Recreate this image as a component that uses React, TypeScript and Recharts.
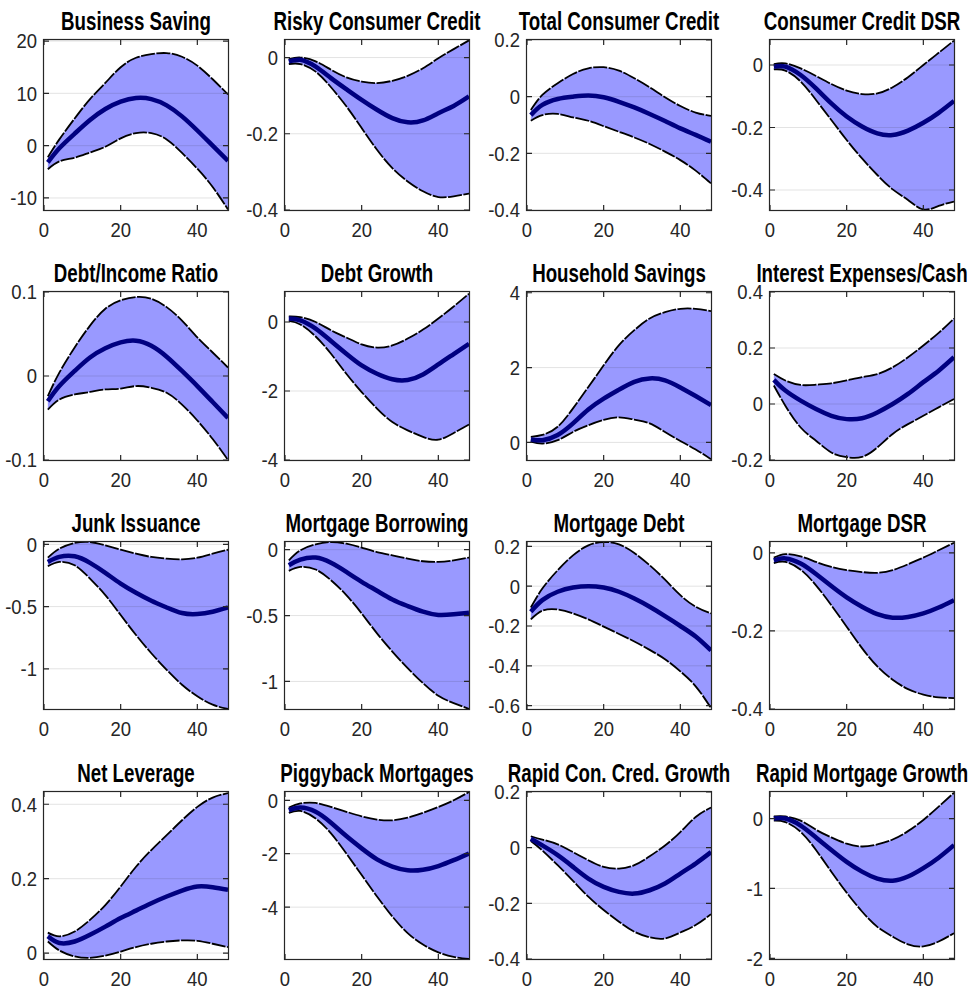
import { ComposedChart, Area, Line, XAxis, YAxis, ReferenceLine } from 'recharts'

const horizons = [1, 4, 8, 12, 16, 20, 24, 28, 32, 36, 40, 44, 48]
const xTicks = [0, 20, 40]

// Business Saving
const bsMid = [-3.2, -0.5, 2.3, 4.9, 7.0, 8.4, 9.1, 8.9, 7.7, 5.6, 2.9, 0.0, -2.9]
const bsHi = [-2.2, 1.2, 5.2, 8.9, 12.0, 15.0, 16.8, 17.5, 17.7, 17.0, 15.3, 12.7, 9.8]
const bsLo = [-4.5, -3.0, -2.3, -1.3, -0.2, 1.4, 2.4, 2.4, 1.2, -1.4, -4.4, -7.9, -12.2]

// Risky Consumer Credit
const rccMid = [-0.01, -0.006, -0.024, -0.054, -0.083, -0.111, -0.137, -0.159, -0.17, -0.165, -0.146, -0.127, -0.102]
const rccHi = [-0.004, 0.0, -0.01, -0.032, -0.052, -0.063, -0.067, -0.061, -0.048, -0.028, -0.002, 0.022, 0.045]
const rccLo = [-0.017, -0.017, -0.037, -0.078, -0.128, -0.185, -0.242, -0.29, -0.325, -0.351, -0.366, -0.364, -0.357]

// Total Consumer Credit
const tccMid = [-0.065, -0.029, -0.008, 0.0, 0.004, -0.002, -0.018, -0.038, -0.061, -0.086, -0.112, -0.135, -0.159]
const tccHi = [-0.047, 0.006, 0.047, 0.08, 0.1, 0.104, 0.092, 0.065, 0.033, -0.002, -0.033, -0.056, -0.068]
const tccLo = [-0.085, -0.065, -0.061, -0.073, -0.085, -0.104, -0.124, -0.144, -0.167, -0.194, -0.224, -0.261, -0.306]

// Consumer Credit DSR
const ccdMid = [-0.005, -0.005, -0.032, -0.075, -0.123, -0.165, -0.197, -0.219, -0.224, -0.21, -0.185, -0.153, -0.115]
const ccdHi = [0.003, 0.005, -0.011, -0.035, -0.061, -0.082, -0.093, -0.091, -0.071, -0.039, 0.0, 0.039, 0.078]
const ccdLo = [-0.014, -0.018, -0.053, -0.112, -0.176, -0.24, -0.299, -0.352, -0.398, -0.432, -0.462, -0.451, -0.437]

// Debt/Income Ratio
const dirMid = [-0.03, -0.012, 0.006, 0.022, 0.033, 0.04, 0.042, 0.036, 0.023, 0.006, -0.012, -0.031, -0.05]
const dirHi = [-0.024, 0.004, 0.034, 0.06, 0.08, 0.09, 0.094, 0.092, 0.082, 0.066, 0.046, 0.028, 0.01]
const dirLo = [-0.04, -0.028, -0.022, -0.019, -0.016, -0.015, -0.012, -0.014, -0.02, -0.034, -0.053, -0.075, -0.1]

// Debt Growth
const dgMid = [0.1, 0.05, -0.19, -0.55, -0.92, -1.26, -1.5, -1.66, -1.68, -1.52, -1.23, -0.93, -0.63]
const dgHi = [0.16, 0.14, 0.0, -0.24, -0.45, -0.65, -0.74, -0.68, -0.48, -0.22, 0.1, 0.45, 0.82]
const dgLo = [0.03, -0.07, -0.42, -0.92, -1.5, -2.03, -2.51, -2.9, -3.14, -3.33, -3.41, -3.22, -2.97]

// Household Savings
const hsMid = [0.08, 0.06, 0.2, 0.51, 0.88, 1.17, 1.41, 1.62, 1.71, 1.66, 1.47, 1.24, 1.0]
const hsHi = [0.15, 0.2, 0.42, 0.91, 1.48, 2.06, 2.6, 3.0, 3.31, 3.48, 3.57, 3.57, 3.51]
const hsLo = [0.02, -0.03, 0.06, 0.28, 0.46, 0.6, 0.67, 0.61, 0.51, 0.28, 0.04, -0.19, -0.45]

// Interest Expenses/Cash
const iecMid = [0.086, 0.048, 0.012, -0.018, -0.042, -0.054, -0.051, -0.03, 0.0, 0.036, 0.078, 0.119, 0.167]
const iecHi = [0.107, 0.084, 0.068, 0.069, 0.074, 0.084, 0.096, 0.107, 0.131, 0.167, 0.209, 0.254, 0.305]
const iecLo = [0.066, -0.006, -0.084, -0.131, -0.173, -0.19, -0.189, -0.155, -0.107, -0.072, -0.042, -0.012, 0.018]

// Junk Issuance
const jiMid = [-0.141, -0.101, -0.096, -0.149, -0.229, -0.315, -0.389, -0.453, -0.507, -0.552, -0.56, -0.541, -0.507]
const jiHi = [-0.107, -0.035, 0.011, 0.019, -0.008, -0.043, -0.075, -0.101, -0.115, -0.12, -0.107, -0.075, -0.043]
const jiLo = [-0.176, -0.141, -0.168, -0.275, -0.408, -0.568, -0.728, -0.875, -1.008, -1.128, -1.221, -1.288, -1.323]

// Mortgage Borrowing
const mbMid = [-0.118, -0.076, -0.06, -0.1, -0.169, -0.244, -0.312, -0.378, -0.428, -0.471, -0.496, -0.491, -0.479]
const mbHi = [-0.081, -0.005, 0.04, 0.058, 0.045, 0.015, -0.018, -0.043, -0.068, -0.088, -0.093, -0.081, -0.06]
const mbLo = [-0.161, -0.131, -0.151, -0.232, -0.345, -0.484, -0.635, -0.773, -0.899, -1.013, -1.108, -1.164, -1.209]

// Mortgage Debt
const mdMid = [-0.128, -0.07, -0.028, -0.007, 0.0, -0.007, -0.028, -0.062, -0.103, -0.15, -0.2, -0.253, -0.323]
const mdHi = [-0.107, -0.012, 0.08, 0.155, 0.205, 0.222, 0.21, 0.167, 0.105, 0.033, -0.045, -0.103, -0.137]
const mdLo = [-0.167, -0.123, -0.117, -0.137, -0.167, -0.203, -0.24, -0.278, -0.32, -0.367, -0.428, -0.503, -0.612]

// Mortgage DSR
const mdsrMid = [-0.019, -0.014, -0.027, -0.054, -0.085, -0.114, -0.138, -0.157, -0.166, -0.164, -0.155, -0.14, -0.121]
const mdsrHi = [-0.012, -0.003, -0.009, -0.023, -0.036, -0.044, -0.049, -0.051, -0.044, -0.029, -0.012, 0.007, 0.026]
const mdsrLo = [-0.026, -0.023, -0.043, -0.083, -0.134, -0.189, -0.244, -0.291, -0.325, -0.349, -0.363, -0.37, -0.372]

// Net Leverage
const nlMid = [0.045, 0.027, 0.031, 0.049, 0.071, 0.094, 0.114, 0.134, 0.152, 0.168, 0.179, 0.177, 0.17]
const nlHi = [0.055, 0.045, 0.058, 0.089, 0.129, 0.179, 0.232, 0.277, 0.317, 0.357, 0.393, 0.418, 0.43]
const nlLo = [0.031, 0.007, -0.009, -0.013, -0.007, 0.004, 0.016, 0.025, 0.031, 0.034, 0.033, 0.025, 0.016]

// Piggyback Mortgages
const pmMid = [-0.37, -0.27, -0.43, -0.84, -1.34, -1.8, -2.21, -2.48, -2.62, -2.6, -2.46, -2.24, -1.99]
const pmHi = [-0.27, -0.12, -0.1, -0.25, -0.43, -0.6, -0.72, -0.75, -0.65, -0.47, -0.25, 0.0, 0.31]
const pmLo = [-0.47, -0.4, -0.68, -1.24, -1.99, -2.8, -3.6, -4.35, -4.97, -5.4, -5.69, -5.86, -5.94]

// Rapid Con. Cred. Growth
const rcgMid = [0.032, 0.008, -0.027, -0.069, -0.111, -0.141, -0.159, -0.165, -0.153, -0.129, -0.093, -0.057, -0.016]
const rcgHi = [0.041, 0.029, 0.012, -0.016, -0.045, -0.069, -0.075, -0.063, -0.031, 0.008, 0.056, 0.11, 0.144]
const rcgLo = [0.024, -0.01, -0.063, -0.119, -0.176, -0.224, -0.266, -0.302, -0.322, -0.326, -0.305, -0.278, -0.239]

// Rapid Mortgage Growth
const rmgMid = [0.0, 0.0, -0.1, -0.27, -0.45, -0.62, -0.76, -0.86, -0.89, -0.83, -0.71, -0.56, -0.38]
const rmgHi = [0.03, 0.03, -0.03, -0.16, -0.27, -0.36, -0.4, -0.37, -0.3, -0.18, -0.02, 0.17, 0.37]
const rmgLo = [-0.03, -0.05, -0.19, -0.45, -0.76, -1.06, -1.33, -1.55, -1.69, -1.8, -1.83, -1.76, -1.64]

const panels = [
  { title: 'Business Saving', mid: bsMid, hi: bsHi, lo: bsLo, domain: [-12.3, 20.2], ticks: [-10, 0, 10, 20] },
  { title: 'Risky Consumer Credit', mid: rccMid, hi: rccHi, lo: rccLo, domain: [-0.4, 0.046], ticks: [-0.4, -0.2, 0] },
  { title: 'Total Consumer Credit', mid: tccMid, hi: tccHi, lo: tccLo, domain: [-0.4, 0.2], ticks: [-0.4, -0.2, 0, 0.2] },
  { title: 'Consumer Credit DSR', mid: ccdMid, hi: ccdHi, lo: ccdLo, domain: [-0.464, 0.08], ticks: [-0.4, -0.2, 0] },
  { title: 'Debt/Income Ratio', mid: dirMid, hi: dirHi, lo: dirLo, domain: [-0.1, 0.1], ticks: [-0.1, 0, 0.1] },
  { title: 'Debt Growth', mid: dgMid, hi: dgHi, lo: dgLo, domain: [-4, 0.87], ticks: [-4, -2, 0] },
  { title: 'Household Savings', mid: hsMid, hi: hsHi, lo: hsLo, domain: [-0.47, 4.02], ticks: [0, 2, 4] },
  { title: 'Interest Expenses/Cash', mid: iecMid, hi: iecHi, lo: iecLo, domain: [-0.2, 0.4], ticks: [-0.2, 0, 0.2, 0.4] },
  { title: 'Junk Issuance', mid: jiMid, hi: jiHi, lo: jiLo, domain: [-1.323, 0.019], ticks: [-1, -0.5, 0] },
  { title: 'Mortgage Borrowing', mid: mbMid, hi: mbHi, lo: mbLo, domain: [-1.209, 0.058], ticks: [-1, -0.5, 0] },
  { title: 'Mortgage Debt', mid: mdMid, hi: mdHi, lo: mdLo, domain: [-0.617, 0.222], ticks: [-0.6, -0.4, -0.2, 0, 0.2] },
  { title: 'Mortgage DSR', mid: mdsrMid, hi: mdsrHi, lo: mdsrLo, domain: [-0.4, 0.028], ticks: [-0.4, -0.2, 0] },
  { title: 'Net Leverage', mid: nlMid, hi: nlHi, lo: nlLo, domain: [-0.016, 0.433], ticks: [0, 0.2, 0.4] },
  { title: 'Piggyback Mortgages', mid: pmMid, hi: pmHi, lo: pmLo, domain: [-5.94, 0.31], ticks: [-4, -2, 0] },
  { title: 'Rapid Con. Cred. Growth', mid: rcgMid, hi: rcgHi, lo: rcgLo, domain: [-0.4, 0.2], ticks: [-0.4, -0.2, 0, 0.2] },
  { title: 'Rapid Mortgage Growth', mid: rmgMid, hi: rmgHi, lo: rmgLo, domain: [-2.01, 0.38], ticks: [-2, -1, 0] },
]

const colLeft = [44, 285, 527, 770]
const rowTop = [40, 292, 542, 792]
const rowH = [170, 168, 167, 167]
const plotW = 184
const padL = 60
const padT = 40

const font = '"Liberation Sans", Arial, Helvetica, sans-serif'
const axisColor = '#262626'

// bottom label, plus inward tick marks on the bottom and top edges of the box
function XTick({ x, y, payload, h }: any) {
  const bottom = padT + h
  return (
    <g>
      <path d={`M${x},${padT}v5M${x},${bottom}v-5`} stroke={axisColor} strokeWidth={1.2} fill="none" />
      <text x={x} y={y} dy="0.71em" textAnchor="middle" fill="#262626" fontSize={21} fontFamily={font}
        transform={`translate(${x} ${y}) scale(0.88 1) translate(${-x} ${-y})`}>
        {payload.value}
      </text>
    </g>
  )
}

// left label, inward tick marks on the left and right edges; the first tick also draws the box
function YTick({ x, y, payload, index, h }: any) {
  const right = padL + plotW
  return (
    <g>
      {index === 0 && (
        <rect x={padL - 0.5} y={padT - 0.5} width={plotW + 1} height={h + 1} fill="none" stroke={axisColor} strokeWidth={1.2} />
      )}
      <path d={`M${padL},${y}h5M${right},${y}h-5`} stroke={axisColor} strokeWidth={1.2} fill="none" />
      <text x={x} y={y} dy="0.35em" textAnchor="end" fill="#262626" fontSize={21} fontFamily={font}
        transform={`translate(${x} ${y}) scale(0.88 1) translate(${-x} ${-y})`}>
        {payload.value}
      </text>
    </g>
  )
}

function Panel({ p, left, top, h }: any) {
  const rows = horizons.map((x, i) => ({ x, mid: p.mid[i], hi: p.hi[i], lo: p.lo[i], band: [p.lo[i], p.hi[i]] }))
  const W = plotW + padL + 10
  const H = h + padT + 40
  return (
    <div style={{ position: 'absolute', left: left - padL, top: top - padT, width: W, height: H }}>
      <span style={{
        position: 'absolute', left: padL + plotW / 2, top: 7, whiteSpace: 'nowrap', zIndex: 2,
        fontFamily: font, fontWeight: 'bold', fontSize: 26, lineHeight: '28px', color: '#000',
        transform: 'translateX(-50%) scaleX(0.72)',
      }}>
        {p.title}
      </span>
      <ComposedChart width={W} height={H} data={rows} margin={{ top: padT, right: 10, bottom: 0, left: 0 }}>
        <XAxis dataKey="x" type="number" domain={[0, 48]} ticks={xTicks} allowDataOverflow height={40}
          tickSize={0} tickMargin={12} tick={<XTick h={h} />} axisLine={false} tickLine={false} />
        <YAxis type="number" domain={p.domain} ticks={p.ticks} allowDataOverflow width={padL}
          tickSize={0} tickMargin={7} tick={<YTick h={h} />} axisLine={false} tickLine={false} />
        <Area dataKey="band" type="natural" fill="#9999ff" fillOpacity={1} stroke="none" isAnimationActive={false} />
        {p.ticks.map((t: number) => (
          <ReferenceLine key={t} y={t} stroke="#262626" strokeOpacity={0.13} strokeWidth={1} />
        ))}
        <Line dataKey="hi" type="natural" stroke="#000" strokeWidth={1.8} strokeDasharray="14 1.5" dot={false} isAnimationActive={false} />
        <Line dataKey="lo" type="natural" stroke="#000" strokeWidth={1.8} strokeDasharray="14 1.5" dot={false} isAnimationActive={false} />
        <Line dataKey="mid" type="natural" stroke="#000080" strokeWidth={4.5} dot={false} isAnimationActive={false} />
      </ComposedChart>
    </div>
  )
}

export default function App() {
  return (
    <div style={{ position: 'absolute', left: 0, top: 0, width: 973, height: 991, background: '#fff', overflow: 'hidden' }}>
      {panels.map((p, i) => (
        <Panel key={p.title} p={p} left={colLeft[i % 4]} top={rowTop[Math.floor(i / 4)]} h={rowH[Math.floor(i / 4)]} />
      ))}
    </div>
  )
}
